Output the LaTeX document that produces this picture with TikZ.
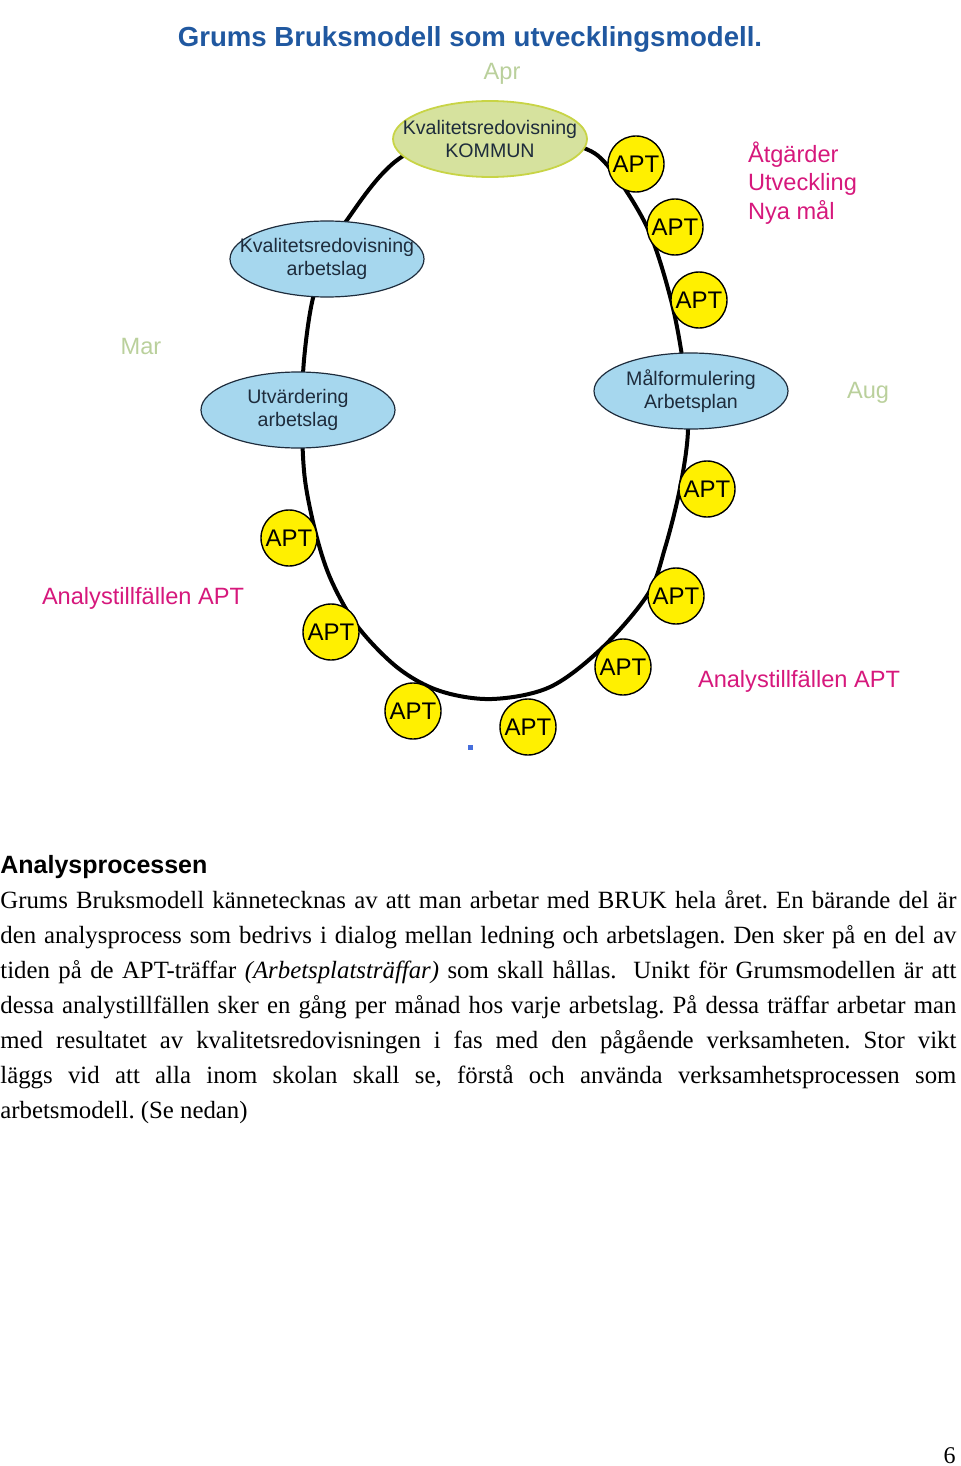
\documentclass[tikz,border=0pt]{standalone}
\usepackage{fontspec}
\setmainfont{Liberation Serif}
\setsansfont{Liberation Sans}
\usetikzlibrary{shapes.geometric}

\definecolor{titleblue}{RGB}{32,88,160}
\definecolor{phaseblue}{RGB}{166,215,238}
\definecolor{kommungreen}{RGB}{214,226,158}
\definecolor{kommunedge}{RGB}{200,212,70}
\definecolor{aptyellow}{RGB}{255,240,0}
\definecolor{notepink}{RGB}{214,24,124}
\definecolor{monthgreen}{RGB}{186,208,156}
\definecolor{inktext}{RGB}{30,44,60}
\definecolor{dotblue}{RGB}{70,110,220}

\begin{document}
\frenchspacing
\begin{tikzpicture}[x=0.5pt,y=-0.5pt,
    phase/.style={ellipse,draw=inktext,line width=0.6pt,fill=phaseblue,minimum width=97pt,minimum height=38pt,inner xsep=-10pt,inner ysep=0pt,align=center,text=inktext,font=\sffamily\fontsize{9.8}{11.5}\selectfont},
    kommun/.style={phase,draw=kommunedge,line width=0.9pt,fill=kommungreen},
    apt/.style={circle,draw=black,line width=0.7pt,fill=aptyellow,minimum size=28pt,inner sep=0pt,font=\sffamily\fontsize{12}{12}\selectfont},
    month/.style={text=monthgreen,font=\sffamily\fontsize{11.8}{12}\selectfont},
    note/.style={text=notepink,font=\sffamily\fontsize{11.8}{14.3}\selectfont,align=left},
    bodyline/.style={anchor=base west,inner sep=0pt,font=\rmfamily\fontsize{12.4}{14}\selectfont}]
    \useasboundingbox (0,0) rectangle (960,1466);

    % title and months
    \node[text=titleblue,font=\sffamily\bfseries\fontsize{13.8}{14}\selectfont] (title) at (470,39) {Grums Bruksmodell som utvecklingsmodell.};
    \node[month] (apr) at (502,74) {Apr};
    \node[month] (mar) at (141,346) {Mar};
    \node[month] (aug) at (868,393) {Aug};

    % the year loop
    \draw[line width=2pt] plot[smooth cycle,tension=0.55] coordinates {
        (490,122) (576,145) (608,166) (647,227) (671,300) (684,370) (688,430) (680,488)
        (665,548) (648,594) (602,648) (550,687) (492,699) (440,691) (398,668) (358,627)
        (332,582) (317,538) (305,480) (302,420) (304,360) (313,298) (330,255) (347,220) (400,158)};

    % APT meetings round the year
    \foreach \name/\pos in {a1/{(636,164)},a2/{(675,227)},a3/{(699,300)},a4/{(707,489)},a5/{(676,596)},
                            a6/{(623,667)},a7/{(528,727)},a8/{(413,711)},a9/{(331,632)},a10/{(289,538)}}
        \node[apt] (\name) at \pos {APT};

    \node[kommun] (kommun) at (490,139) {Kvalitetsredovisning\\KOMMUN};
    \node[phase] (kvalarb) at (327,259) {Kvalitetsredovisning\\arbetslag};
    \node[phase] (utv) at (298,410) {Utvärdering\\arbetslag};
    \node[phase] (malf) at (691,391) {Målformulering\\Arbetsplan};

    \node[note,anchor=west] (atg) at (741,183) {Åtgärder\\Utveckling\\Nya mål};
    \node[note] (analysv) at (143,598) {Analystillfällen APT};
    \node[note] (analysh) at (799,681) {Analystillfällen APT};
    \fill[dotblue] (467.5,744.5) rectangle (472.5,749.5);

    % text below the picture
    \node[anchor=base west,inner sep=0pt,font=\sffamily\bfseries\fontsize{12.5}{14}\selectfont] (rubrik) at (0,873) {Analysprocessen};
    \node[bodyline] (r1) at (0,908) {\makebox[478pt][s]{Grums Bruksmodell kännetecknas av att man arbetar med BRUK hela året. En bärande del är}};
    \node[bodyline] (r2) at (0,943) {\makebox[478pt][s]{den analysprocess som bedrivs i dialog mellan ledning och arbetslagen. Den sker på en del av}};
    \node[bodyline] (r3) at (0,978) {\makebox[478pt][s]{tiden på de APT-träffar \textit{(Arbetsplatsträffar)} som skall hållas. \ Unikt för Grumsmodellen är att}};
    \node[bodyline] (r4) at (0,1013) {\makebox[478pt][s]{dessa analystillfällen sker en gång per månad hos varje arbetslag. På dessa träffar arbetar man}};
    \node[bodyline] (r5) at (0,1048) {\makebox[478pt][s]{med resultatet av kvalitetsredovisningen i fas med den pågående verksamheten. Stor vikt}};
    \node[bodyline] (r6) at (0,1083) {\makebox[478pt][s]{läggs vid att alla inom skolan skall se, förstå och använda verksamhetsprocessen som}};
    \node[bodyline] (r7) at (0,1118) {arbetsmodell. (Se nedan)};
    \node[anchor=base east,inner sep=0pt,font=\rmfamily\fontsize{12}{14}\selectfont] (sida) at (956,1463) {6};
\end{tikzpicture}
\end{document}
